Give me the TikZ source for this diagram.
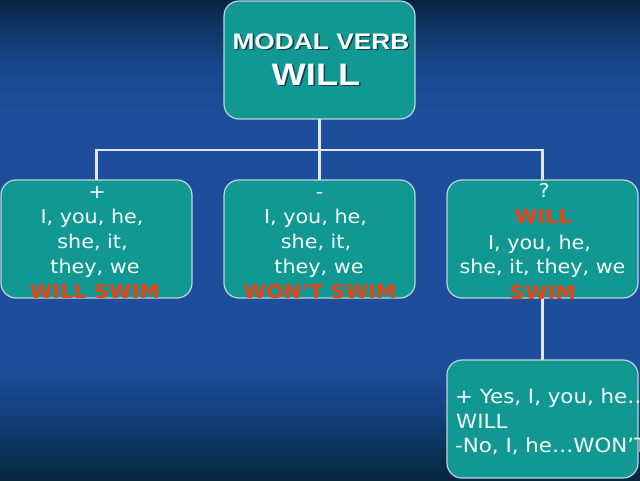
\documentclass[tikz,border=0pt]{standalone}
\usepackage{fontspec}
\setmainfont{DejaVu Sans}
\newfontfamily\bodyf[FakeStretch=1.09]{DejaVu Sans}
\newfontfamily\titlef[FakeStretch=1.17]{Liberation Sans}
\definecolor{bgA}{RGB}{8,40,62}
\definecolor{bgB}{RGB}{12,50,88}
\definecolor{bgC}{RGB}{20,64,124}
\definecolor{bgD}{RGB}{30,78,155}
\definecolor{bgE}{RGB}{22,70,136}
\definecolor{bgF}{RGB}{13,52,96}
\definecolor{bgT}{RGB}{10,34,64}
\definecolor{boxfill}{RGB}{18,152,146}
\definecolor{boxline}{RGB}{185,215,220}
\definecolor{conncol}{RGB}{225,232,240}
\definecolor{redc}{RGB}{235,66,22}
\definecolor{txtw}{RGB}{245,255,255}
\definecolor{shadowc}{RGB}{20,60,70}
\pgfdeclareverticalshading{bgshade}{100bp}{color(0bp)=(bgA); color(25bp)=(bgA); color(28bp)=(bgB); color(32bp)=(bgC); color(37bp)=(bgD); color(63bp)=(bgD); color(68.5bp)=(bgE); color(72.5bp)=(bgF); color(75bp)=(bgT); color(100bp)=(bgT)}
\tikzset{
  box/.style={draw=boxline, line width=1.2pt, fill=boxfill, rounded corners=15pt,
    minimum width=191pt, minimum height=118pt, inner sep=0pt, outer sep=0pt},
  conn/.style={draw=conncol, line width=2.2pt},
  lt/.style={text=txtw, font=\bodyf\fontsize{19}{23}\selectfont, anchor=base, inner sep=0pt},
  rt/.style={text=redc, font=\bodyf\bfseries\fontsize{19}{23}\selectfont, anchor=base, inner sep=0pt},
  ltw/.style={lt, font=\bodyf\fontsize{19.6}{23}\selectfont, anchor=base west},
  ttlA/.style={text=txtw, font=\titlef\bfseries\fontsize{22.5}{26}\selectfont, anchor=base, inner sep=0pt},
  ttlB/.style={text=txtw, font=\titlef\bfseries\fontsize{31}{34}\selectfont, anchor=base, inner sep=0pt},
  shad/.style={text=shadowc}
}
\begin{document}
\begin{tikzpicture}[x=1pt,y=-1pt]
\useasboundingbox (0,0) rectangle (640,480);
\clip (0,0) rectangle (640,480);
\shade[shading=bgshade] (0,0) rectangle (640,480);

% boxes
\node[box] (top) at (319.5,60) {};
\node[box] (b1) at (96.5,239) {};
\node[box] (b2) at (319.5,239) {};
\node[box] (b3) at (542.5,239) {};
\node[box] (b4) at (542.5,419) {};

% connectors
\coordinate (j) at (319.5,150);
\draw[conn] (top.south) -- (j);
\draw[conn] (b1.north) |- (j);
\draw[conn] (j) -| (b3.north);
\draw[conn] (j) -- (b2.north);
\draw[conn] (b3.south) -- (b4.north);

% title
\node[ttlA,shad] (tAs) at (322.5,50.5) {MODAL VERB};
\node[ttlA] (tA) at (321,49) {MODAL VERB};
\node[ttlB,shad] (tBs) at (317.5,86.5) {WILL};
\node[ttlB] (tB) at (316,85) {WILL};

% box 1
\node[lt] (a1) at (97,198) {+};
\node[lt] (a2) at (92,223) {I, you, he,};
\node[lt] (a3) at (92.5,248) {she, it,};
\node[lt] (a4) at (95,273) {they, we};
\node[rt] (a5) at (95,298) {WILL SWIM};

% box 2
\node[lt] (c1) at (319.5,198) {-};
\node[lt] (c2) at (315.5,223) {I, you, he,};
\node[lt] (c3) at (316,248) {she, it,};
\node[lt] (c4) at (319,273) {they, we};
\node[rt] (c5) at (320,298) {WON’T SWIM};

% box 3
\node[lt] (d1) at (544,197) {?};
\node[rt] (d2) at (543,223) {WILL};
\node[lt] (d3) at (539.5,249) {I, you, he,};
\node[lt] (d4) at (542.5,273) {she, it, they, we};
\node[rt] (d5) at (543,299) {SWIM};

% box 4
\node[ltw] (e1) at (455,403) {+ Yes, I, you, he…};
\node[ltw] (e2) at (456,428) {WILL};
\node[ltw] (e3) at (455,452) {-No, I, he…WON’T};
\end{tikzpicture}
\end{document}
